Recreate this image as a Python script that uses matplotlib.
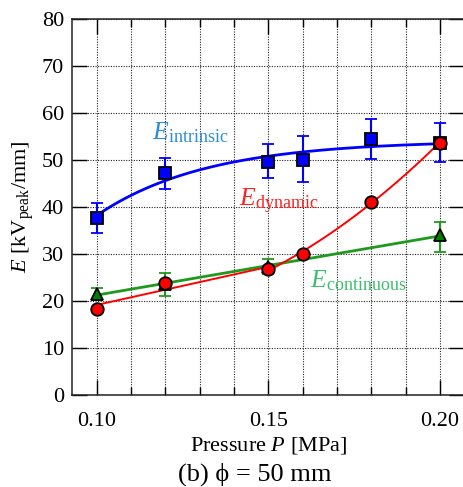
import numpy as np
import matplotlib.pyplot as plt
from matplotlib.ticker import MultipleLocator, FormatStrFormatter

plt.rcParams["font.family"] = "Liberation Serif"
plt.rcParams["mathtext.fontset"] = "custom"
plt.rcParams["mathtext.rm"] = "Liberation Serif"
plt.rcParams["mathtext.it"] = "Liberation Serif:italic"

# measured breakdown fields, pressure in MPa, E in kV_peak/mm
P_intr = np.array([0.10, 0.12, 0.15, 0.16, 0.18, 0.20])
E_intr = np.array([37.7, 47.2, 49.6, 50.0, 54.4, 53.7])
E_intr_lo = np.array([34.4, 43.8, 46.1, 45.3, 50.2, 49.6])
E_intr_hi = np.array([40.9, 50.4, 53.3, 55.0, 58.7, 57.9])

P_dyn = np.array([0.10, 0.12, 0.15, 0.16, 0.18, 0.20])
E_dyn = np.array([18.3, 23.8, 26.7, 30.1, 41.1, 53.7])

P_cont = np.array([0.10, 0.12, 0.15, 0.20])
E_cont = np.array([21.5, 23.6, 27.3, 34.0])
E_cont_lo = np.array([20.3, 21.1, 25.7, 30.5])
E_cont_hi = np.array([22.7, 26.0, 28.9, 36.9])


def fit_saturation(x, y):
    # y = a - b*exp(-c*(x - x0)), scan c and solve a, b by least squares
    best = None
    for c in np.linspace(1, 200, 4000):
        A = np.column_stack([np.ones_like(x), -np.exp(-c * (x - x[0]))])
        coef = np.linalg.lstsq(A, y, rcond=None)[0]
        err = np.sum((A @ coef - y) ** 2)
        if best is None or err < best[0]:
            best = (err, c, coef)
    _, c, (a, b) = best
    return lambda t: a - b * np.exp(-c * (t - x[0]))


xs = np.linspace(0.10, 0.20, 300)

# intrinsic: saturating fit
f_intr = fit_saturation(P_intr, E_intr)

# continuous: straight line
k_cont = np.polyfit(P_cont, E_cont, 1)

# dynamic: linear up to 0.15 MPa, quadratic above
lo = P_dyn <= 0.15
hi = P_dyn >= 0.15
k_dyn_lo = np.polyfit(P_dyn[lo], E_dyn[lo], 1)
k_dyn_hi = np.polyfit(P_dyn[hi], E_dyn[hi], 2)
xs_lo = np.linspace(0.10, 0.15, 100)
xs_hi = np.linspace(0.15, 0.20, 200)

fig = plt.figure(figsize=(4.63, 4.87), dpi=100)
ax = fig.add_axes([0.156, 0.189, 0.847, 0.772])

# intrinsic
ax.plot(xs, f_intr(xs), color="#0000ff", lw=2.0, zorder=3)
ax.errorbar(P_intr, E_intr, yerr=[E_intr - E_intr_lo, E_intr_hi - E_intr],
            fmt="s", ms=9, mfc="#0000ff", mec="black", mew=1.3,
            ecolor="#0000ff", elinewidth=1.5, capsize=4, capthick=1.5, zorder=4)

# continuous
ax.plot(xs, np.polyval(k_cont, xs), color="#1f9a1f", lw=2.0, zorder=3)
ax.errorbar(P_cont, E_cont, yerr=[E_cont - E_cont_lo, E_cont_hi - E_cont],
            fmt="^", ms=9, mfc="#008000", mec="black", mew=1.3,
            ecolor="#1f9a1f", elinewidth=1.5, capsize=4, capthick=1.5, zorder=4)

# dynamic
ax.plot(xs_lo, np.polyval(k_dyn_lo, xs_lo), color="#ff0000", lw=1.4, zorder=3)
ax.plot(xs_hi, np.polyval(k_dyn_hi, xs_hi), color="#ff0000", lw=1.4, zorder=3)
ax.plot(P_dyn, E_dyn, "o", ms=9, mfc="#ff0000", mec="black", mew=1.3, zorder=5)

ax.text(0.1162, 54.4, r"$E_{\rm intrinsic}$", color="#2a8fd8", fontsize=18.5, va="baseline")
ax.text(0.1416, 40.1, r"$E_{\rm dynamic}$", color="#ff2020", fontsize=18.5, va="baseline")
ax.text(0.1622, 22.9, r"$E_{\rm continuous}$", color="#3dbf6f", fontsize=18.5, va="baseline")

ax.set_xlim(0.0929, 0.2071)
ax.set_ylim(0, 80)
ax.xaxis.set_major_locator(MultipleLocator(0.05))
ax.xaxis.set_minor_locator(MultipleLocator(0.01))
ax.xaxis.set_major_formatter(FormatStrFormatter("%.2f"))
ax.yaxis.set_major_locator(MultipleLocator(10))
ax.tick_params(which="both", direction="in", top=True, right=True, width=1, labelsize=16)
ax.tick_params(axis="x", which="major", length=10.5, pad=12)
ax.tick_params(axis="y", which="major", length=10.5, pad=6)
ax.tick_params(which="minor", length=5.5)
ax.grid(True, which="both", color="#222222", lw=0.8, ls=(0, (1, 1.3)))
for s in ax.spines.values():
    s.set_linewidth(1.1)
    s.set_color("#222222")

ax.set_xlabel(r"Pressure $P$ [MPa]", fontsize=16, labelpad=3)
ax.set_ylabel(r"$E$ [kV$_{\rm peak}$/mm]", fontsize=16, labelpad=4)

fig.text(0.551, 0.027, "(b) \u03d5 = 50 mm", fontsize=19, ha="center", va="center")

fig.savefig("out.png", dpi=100)
